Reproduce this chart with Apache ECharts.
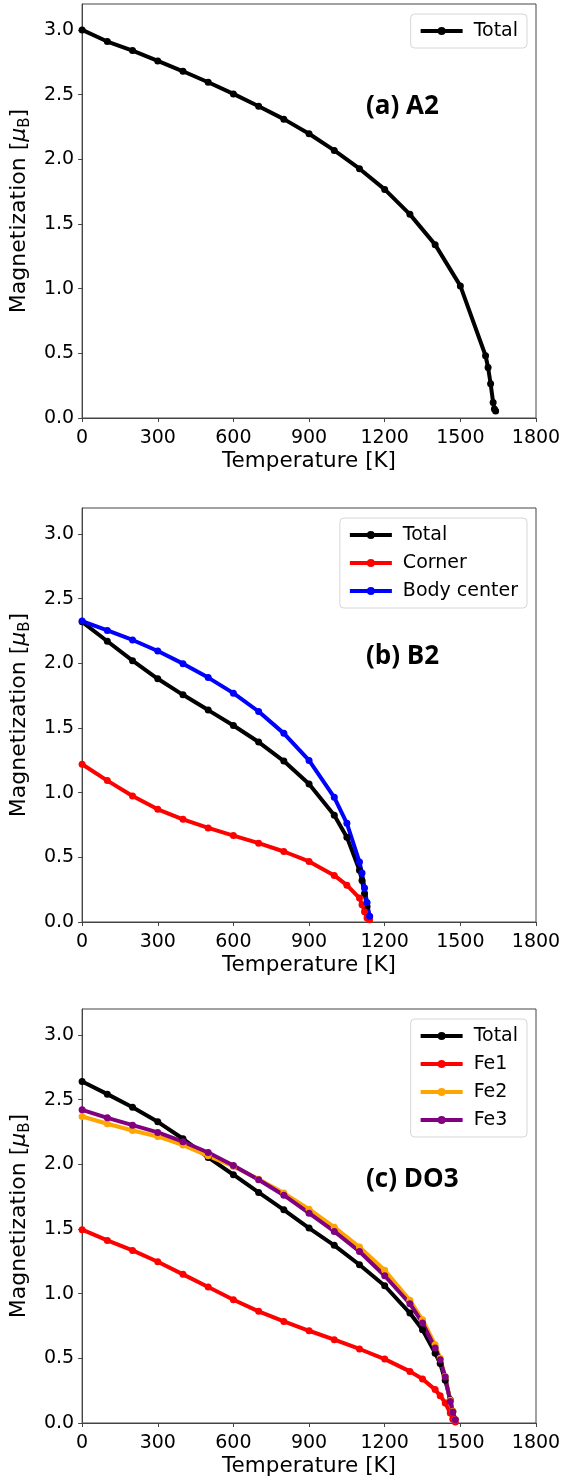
<!DOCTYPE html>
<html lang="en">

<head>
  <meta charset="UTF-8" />
  <script src="https://cdn.jsdelivr.net/npm/echarts@6/dist/echarts.min.js"></script>
  <title>Magnetization vs temperature</title>
</head>

<body style="margin: 0">
  <div id="main" style="width: 564px; height: 1484px"></div>
  <script type="text/javascript">
    // temperatures (K) of each panel
    var tempA = [0, 100, 200, 300, 400, 500, 600, 700, 800, 900, 1000, 1100, 1200, 1300, 1400, 1500,
      1600, 1610, 1620, 1630, 1635, 1640];
    var tempB = [0, 100, 200, 300, 400, 500, 600, 700, 800, 900, 1000, 1050, 1100, 1110, 1120, 1130, 1140];
    var tempC = [0, 100, 200, 300, 400, 500, 600, 700, 800, 900, 1000, 1100, 1200, 1300, 1350, 1400,
      1420, 1440, 1460, 1470, 1480];

    // (a) A2
    var totalA = [3.0, 2.91, 2.84, 2.76, 2.68, 2.595, 2.505, 2.41, 2.31, 2.197, 2.068, 1.927, 1.767, 1.574,
      1.34, 1.021, 0.481, 0.39, 0.265, 0.12, 0.07, 0.055];
    // (b) B2
    var totalB = [2.32, 2.17, 2.02, 1.88, 1.756, 1.638, 1.519, 1.391, 1.244, 1.067, 0.825, 0.656, 0.40,
      0.32, 0.22, 0.12, 0.04];
    var cornerB = [1.219, 1.093, 0.974, 0.871, 0.794, 0.727, 0.668, 0.609, 0.545, 0.468, 0.36, 0.285, 0.185,
      0.134, 0.08, 0.03, 0.018];
    var bodyB = [2.326, 2.254, 2.18, 2.095, 1.997, 1.889, 1.769, 1.627, 1.458, 1.249, 0.964, 0.763, 0.463,
      0.378, 0.262, 0.15, 0.044];
    // (c) DO3
    var totalC = [2.64, 2.542, 2.441, 2.328, 2.197, 2.053, 1.919, 1.782, 1.648, 1.507, 1.373, 1.223, 1.061,
      0.85, 0.721, 0.54, 0.46, 0.33, 0.18, 0.09, 0.026];
    var fe1C = [1.494, 1.411, 1.334, 1.246, 1.149, 1.051, 0.953, 0.863, 0.785, 0.713, 0.644, 0.572, 0.494,
      0.399, 0.34, 0.258, 0.211, 0.155, 0.077, 0.031, 0.008];
    var fe2C = [2.369, 2.313, 2.261, 2.215, 2.148, 2.065, 1.983, 1.885, 1.777, 1.653, 1.514, 1.36, 1.18,
      0.948, 0.798, 0.605, 0.50, 0.36, 0.175, 0.09, 0.026];
    var fe3C = [2.421, 2.359, 2.302, 2.246, 2.174, 2.091, 1.991, 1.88, 1.761, 1.622, 1.481, 1.326, 1.138,
      0.922, 0.773, 0.579, 0.489, 0.355, 0.167, 0.085, 0.026];

    var xTicks = [0, 300, 600, 900, 1200, 1500, 1800];
    var yTicks = [0, 0.5, 1.0, 1.5, 2.0, 2.5, 3.0];
    var panelTitles = ["(a) A2", "(b) B2", "(c) DO3"];

    var font = "DejaVu Sans";
    var gridTops = [4, 508, 1009];
    var titleTops = [89, 639, 1162];

    function pairs(xs, ys) {
      return xs.map(function (x, i) { return [x, ys[i]]; });
    }

    function makeSeries(name, color, xs, ys, idx) {
      return {
        name: name,
        type: "line",
        xAxisIndex: idx,
        yAxisIndex: idx,
        data: pairs(xs, ys),
        symbol: "circle",
        symbolSize: 7,
        lineStyle: { color: color, width: 4 },
        itemStyle: { color: color },
        emphasis: { disabled: true },
      };
    }

    var grids = [], xAxes = [], yAxes = [], legends = [], titles = [];
    gridTops.forEach(function (top, i) {
      grids.push({ left: 81, width: 455, top: top, height: 414, show: true, borderColor: "#444", borderWidth: 1 });
      xAxes.push({
        type: "value", gridIndex: i, min: 0, max: 1800,
        name: "Temperature [K]", nameLocation: "middle", nameGap: 32,
        nameTextStyle: { fontFamily: font, fontSize: 21.5, color: "#000" },
        splitLine: { show: false },
        axisLine: { lineStyle: { color: "#444", width: 1 } },
        axisTick: { customValues: xTicks, length: 4, lineStyle: { color: "#444" } },
        axisLabel: {
          customValues: xTicks, fontFamily: font, fontSize: 19, color: "#000", margin: 11,
          formatter: function (v) { return String(v); },
        },
      });
      yAxes.push({
        type: "value", gridIndex: i, min: 0, max: 3.2,
        name: "Magnetization [{mu|μ}{sub|B}]", nameLocation: "middle", nameGap: 46,
        nameTextStyle: {
          fontFamily: font, fontSize: 22, color: "#000",
          rich: {
            mu: { fontFamily: font, fontSize: 22, fontStyle: "italic", color: "#000" },
            sub: { fontFamily: font, fontSize: 15, color: "#000", verticalAlign: "bottom", lineHeight: 28 },
          },
        },
        splitLine: { show: false },
        axisLine: { lineStyle: { color: "#444", width: 1 } },
        axisTick: { customValues: yTicks, length: 4, lineStyle: { color: "#444" } },
        axisLabel: {
          customValues: yTicks, fontFamily: font, fontSize: 19, color: "#000", margin: 8,
          formatter: function (v) { return v.toFixed(1); },
        },
      });
      titles.push({
        text: panelTitles[i], left: 361, top: titleTops[i],
        textStyle: { fontFamily: "Open Sans", fontWeight: "bold", fontSize: 26, color: "#000" },
      });
    });

    var legendNames = [["Total"], ["Total", "Corner", "Body center"], ["Total", "Fe1", "Fe2", "Fe3"]];
    var legendTops = [14, 518, 1019];
    legendNames.forEach(function (names, i) {
      legends.push({
        data: names, orient: "vertical", right: 37, top: legendTops[i],
        itemWidth: 42, itemHeight: 10, itemGap: 6, padding: [6, 9, 6, 8],
        lineStyle: { width: 4 },
        borderColor: "#d6d6d6", borderWidth: 1, borderRadius: 4, backgroundColor: "rgba(255,255,255,0.8)",
        textStyle: { fontFamily: font, fontSize: 19, color: "#000", lineHeight: 22, padding: [0, 0, 0, 6] },
        selectedMode: false,
      });
    });

    var series = [
      makeSeries("Total", "#000000", tempA, totalA, 0),
      makeSeries("Total", "#000000", tempB, totalB, 1),
      makeSeries("Corner", "#ff0000", tempB, cornerB, 1),
      makeSeries("Body center", "#0000ff", tempB, bodyB, 1),
      makeSeries("Total", "#000000", tempC, totalC, 2),
      makeSeries("Fe1", "#ff0000", tempC, fe1C, 2),
      makeSeries("Fe2", "#ffa500", tempC, fe2C, 2),
      makeSeries("Fe3", "#800080", tempC, fe3C, 2),
    ];

    var myChart = echarts.init(document.getElementById("main"));
    myChart.setOption({
      animation: false,
      backgroundColor: "#fff",
      title: titles,
      legend: legends,
      grid: grids,
      xAxis: xAxes,
      yAxis: yAxes,
      series: series,
    });
  </script>
</body>

</html>
